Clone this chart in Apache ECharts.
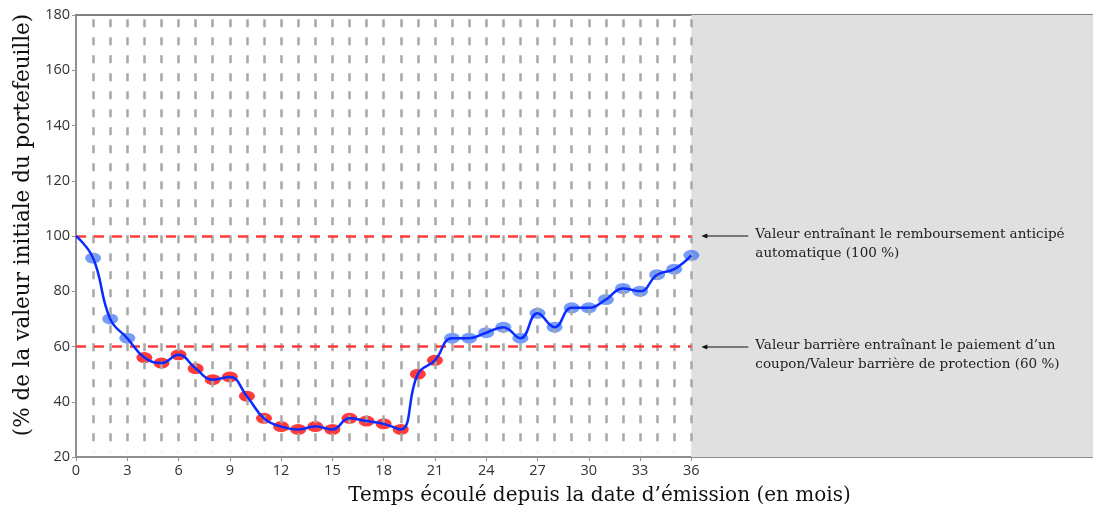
<!DOCTYPE html>
<html><head><meta charset="utf-8">
<script src="https://cdn.jsdelivr.net/npm/echarts@6/dist/echarts.min.js"></script>
<style>html,body{margin:0;padding:0;background:#fff}#c{width:1093px;height:506px}</style>
</head><body><div id="c"></div>
<script>
// ---- data ----
const months = [0,1,2,3,4,5,6,7,8,9,10,11,12,13,14,15,16,17,18,19,20,21,22,23,24,25,26,27,28,29,30,31,32,33,34,35,36];
const values = [100,92,70,63,56,54,57,52,48,49,42,34,31,30,31,30,34,33,32,30,50,55,63,63,65,67,63,72,67,74,74,77,81,80,86,88,93];
const xTickLabels = [0,3,6,9,12,15,18,21,24,27,30,33,36];
const yTickLabels = [20,40,60,80,100,120,140,160,180];
const autocallLevel = 100;
const barrierLevel = 60;
const autocallText = ['Valeur entraînant le remboursement anticipé', 'automatique (100 %)'];
const barrierText = ['Valeur barrière entraînant le paiement d\u2019un', 'coupon/Valeur barrière de protection (60 %)'];
const xTitle = 'Temps écoulé depuis la date d\u2019émission (en mois)';
const yTitle = '(% de la valeur initiale du portefeuille)';
const maturity = 36;
const xEnd = 59.5;

const observationMonths = months.slice(1);
const scatterData = observationMonths.map(m => ({
  value: [m, values[m]],
  itemStyle: { color: values[m] < barrierLevel ? '#ff0a0a' : 'rgba(40,100,245,0.8)' }
}));
const lineData = months.map((m, i) => [m, values[i]]);

const chart = echarts.init(document.getElementById('c'), null, { renderer: 'canvas' });
const option = {
  animation: false,
  backgroundColor: '#fff',
  grid: { left: 76, right: 0, top: 15, bottom: 49, containLabel: false, outerBoundsMode: 'none' },
  xAxis: [{
    type: 'value', min: 0, max: xEnd,
    name: xTitle, nameLocation: 'middle', nameGap: 29,
    nameTextStyle: { fontFamily: 'DejaVu Serif', fontSize: 20, color: '#111', padding: [0, 0, 0, 30] },
    axisLine: { show: true, lineStyle: { color: '#909090', width: 2 } },
    axisTick: { show: true, length: 4, lineStyle: { color: '#909090' }, customValues: xTickLabels },
    axisLabel: { customValues: xTickLabels, fontFamily: 'Open Sans', fontSize: 14.5, color: '#333', margin: 6 },
    splitLine: { show: false }
  }, {
    type: 'value', min: 0, max: xEnd, position: 'top',
    axisLine: { show: true, lineStyle: { color: '#808080', width: 2 } },
    axisTick: { show: false }, axisLabel: { show: false }, splitLine: { show: false }
  }],
  yAxis: {
    type: 'value', min: 20, max: 180, interval: 20,
    name: yTitle, nameLocation: 'middle', nameRotate: 90, nameGap: 37,
    nameTextStyle: { fontFamily: 'DejaVu Serif', fontSize: 21.5, color: '#111', padding: [0, 0, 0, 22] },
    axisLine: { show: true, lineStyle: { color: '#909090', width: 2 } },
    axisTick: { show: true, length: 4, lineStyle: { color: '#909090' } },
    axisLabel: { fontFamily: 'Open Sans', fontSize: 14.5, color: '#333', margin: 6 },
    splitLine: { show: false }
  },
  series: [
    {
      type: 'line', data: [], z: 1, silent: true,
      markArea: {
        silent: true,
        itemStyle: { color: '#e0e0e0' },
        data: [[{ xAxis: maturity }, { xAxis: xEnd }]]
      }
    },
    {
      type: 'line', data: [], z: 2, silent: true,
      markLine: {
        silent: true, symbol: ['none', 'none'], label: { show: false },
        lineStyle: { color: '#a8a8a8', type: [8, 10], width: 2.5 },
        data: observationMonths.map(m => [{ coord: [m, 178.5] }, { coord: [m, 22] }])
      }
    },
    {
      type: 'line', data: [], z: 3, silent: true,
      markLine: {
        silent: true, symbol: ['none', 'none'], label: { show: false },
        lineStyle: { color: '#ff3b3b', type: [10, 8], width: 2.5 },
        data: [autocallLevel, barrierLevel].map(v => [{ coord: [0, v] }, { coord: [maturity, v] }])
      }
    },
    {
      type: 'scatter', data: scatterData, z: 4,
      symbol: 'circle', symbolSize: [16, 11]
    },
    {
      type: 'line', data: lineData, z: 5, smooth: 0.45,
      showSymbol: false,
      lineStyle: { color: '#0a2cff', width: 2.5 }
    }
  ]
};
chart.setOption(option);

function annotation(level, lines) {
  const p = chart.convertToPixel({ gridIndex: 0 }, [maturity, level]);
  const y = Math.round(p[1]);
  const x0 = p[0] + 10, x1 = p[0] + 57;
  return [
    { type: 'line', z: 100, shape: { x1: x0 + 5, y1: y, x2: x1, y2: y }, style: { stroke: '#111', lineWidth: 1 } },
    { type: 'polygon', z: 100, shape: { points: [[x0, y], [x0 + 6, y - 2.5], [x0 + 6, y + 2.5]] }, style: { fill: '#111' } },
    { type: 'text', z: 100, x: x1 + 7, y: y - 11, style: { text: lines.join('\n'), font: '13.5px "DejaVu Serif"', fill: '#222', lineHeight: 19, verticalAlign: 'top' } }
  ];
}
chart.setOption({
  graphic: { elements: [...annotation(autocallLevel, autocallText), ...annotation(barrierLevel, barrierText)] }
});
</script>
</body></html>
